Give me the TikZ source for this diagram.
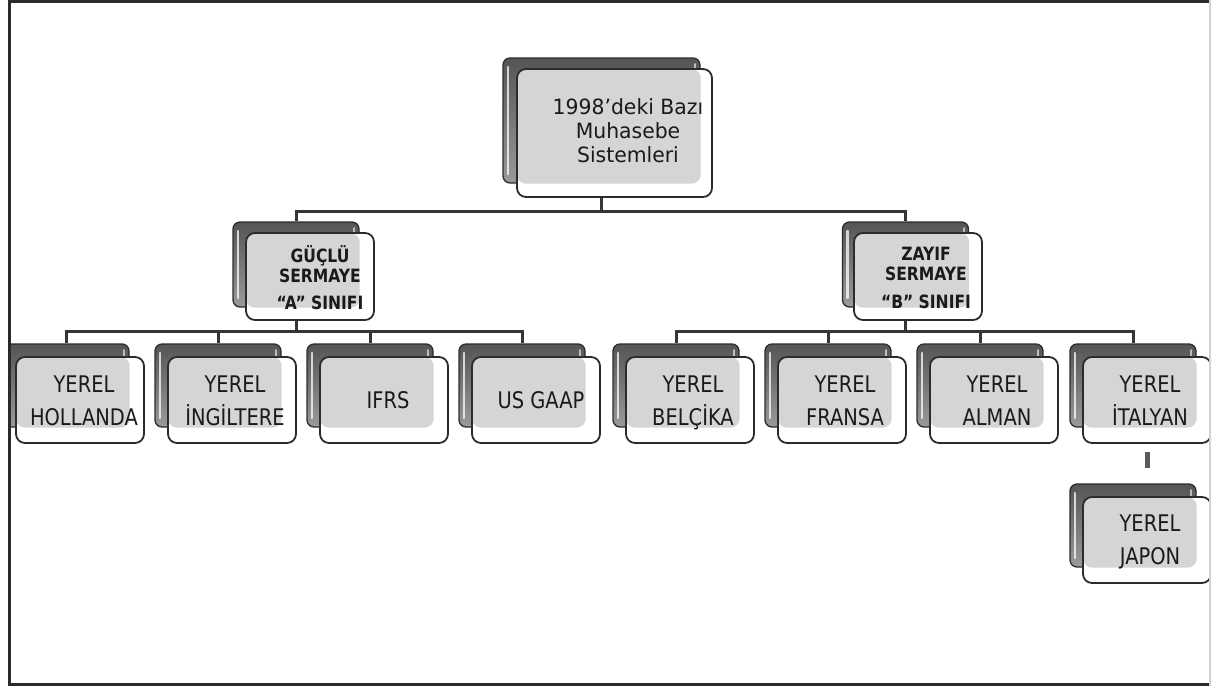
\documentclass[tikz,border=0pt]{standalone}
\usepackage{fontspec}
\usetikzlibrary{backgrounds}
\setmainfont{DejaVu Sans}
\newfontfamily\rootface{DejaVu Sans}[FakeStretch=0.97]
\newfontfamily\midface{DejaVu Sans}[FakeStretch=0.85]
\newfontfamily\leafface{DejaVu Sans}[FakeStretch=0.85]

\definecolor{edge}{HTML}{2C2C2C}
\definecolor{backtop}{HTML}{555555}
\definecolor{backbot}{HTML}{9A9A9A}
\definecolor{grain}{HTML}{D5D5D5}
\definecolor{ink}{HTML}{1A1A1A}
\definecolor{link}{HTML}{353535}
\definecolor{framec}{HTML}{2A2A2A}

\tikzset{
  rearbox/.style={rounded corners=7pt, draw=edge, line width=1.3pt,
    top color=backtop, bottom color=backbot, inner sep=0pt,
    path picture={
      \draw[white, opacity=.75, line width=2.4pt, line cap=round]
        ([xshift=5pt,yshift=-9pt]path picture bounding box.north west) --
        ([xshift=5pt,yshift=9pt]path picture bounding box.south west);
      \draw[white, opacity=.6, line width=2pt, line cap=round]
        ([xshift=-5pt,yshift=-6pt]path picture bounding box.north east) --
        ([xshift=-5pt,yshift=-22pt]path picture bounding box.north east);
    }},
  facebox/.style={rounded corners=9pt, draw=edge, line width=1.8pt,
    fill=white, inner sep=0pt,
    path picture={\fill[grain] (path picture bounding box.north west)
      rectangle (#1.south east);}},
  leafrear/.style={rearbox, minimum width=126pt, minimum height=83pt},
  leafface/.style={facebox=#1, minimum width=128pt, minimum height=86pt},
  midrear/.style={rearbox, minimum width=126pt, minimum height=85pt},
  midface/.style={facebox=#1, minimum width=128pt, minimum height=87pt},
  toptext/.style={text=ink, align=center, inner sep=0pt,
    font=\rootface\fontsize{21}{24}\selectfont},
  midtext/.style={text=ink, align=center, inner sep=0pt,
    font=\midface\bfseries\fontsize{18.3}{19}\selectfont},
  leaftext/.style={text=ink, align=center, inner sep=0pt,
    font=\leafface\fontsize{22.9}{33}\selectfont},
  link/.style={draw=link, line width=3pt},
  bar/.style={draw=gray!70!black, line width=5pt},
}

\begin{document}
\begin{tikzpicture}[x=1pt, y=-1pt]
\useasboundingbox (0,0) rectangle (1211,686);

\begin{scope}
\clip (10,3) rectangle (1211,683);

% root
\node[rearbox, minimum width=197pt, minimum height=125pt] (root-b) at (601.5,120.5) {};
\node[facebox=root-b, minimum width=195pt, minimum height=128pt] (root) at (614.5,133) {};
\node[toptext] (root-t) at (628,131) {1998’deki Bazı\\Muhasebe\\Sistemleri};

% second level
\node[midrear] (guc-b) at (296,264.5) {};
\node[midface=guc-b] (guc) at (310,276.5) {};
\node[midtext] (guc-t) at (320,280.5) {\strut GÜÇLÜ\\\strut SERMAYE\\[7pt]\strut “A” SINIFI};

\node[midrear] (zay-b) at (905.5,264.5) {};
\node[midface=zay-b] (zay) at (918,276.5) {};
\node[midtext] (zay-t) at (926,280.5) {\strut ZAYIF\\\strut SERMAYE\\[7pt]\strut “B” SINIFI};

% leaves
\foreach \nm/\x in {hol/66, ing/218, ifrs/370, usg/522, bel/676,
    fra/828, alm/980, ita/1133} {
  \node[leafrear] (\nm-b) at (\x,385.5) {};
  \node[leafface=\nm-b] (\nm) at (\x+14,400) {};
}
\node[leaftext] (hol-t) at (84,402) {\strut YEREL\\\strut HOLLANDA};
\node[leaftext] (ing-t) at (235,402) {\strut YEREL\\\strut İNGİLTERE};
\node[leaftext] (ifrs-t) at (388,400) {IFRS};
\node[leaftext] (usg-t) at (541,400) {US GAAP};
\node[leaftext] (bel-t) at (693,402) {\strut YEREL\\\strut BELÇİKA};
\node[leaftext] (fra-t) at (845,402) {\strut YEREL\\\strut FRANSA};
\node[leaftext] (alm-t) at (997,402) {\strut YEREL\\\strut ALMAN};
\node[leaftext] (ita-t) at (1150,402) {\strut YEREL\\\strut İTALYAN};

\node[leafrear] (jap-b) at (1133,525.5) {};
\node[leafface=jap-b] (jap) at (1147,540) {};
\node[leaftext] (jap-t) at (1150,541) {\strut YEREL\\\strut JAPON};
\end{scope}

% connectors, kept behind the boxes
\begin{pgfonlayer}{background}
  \foreach \c in {guc, zay}
    \draw[link] (root-b.south |- root.south) -- ++(0,14) -| (\c-b.north);
  \foreach \c in {hol, ing, ifrs, usg}
    \draw[link] (guc-b.south |- guc.south) -- ++(0,11) -| (\c-b.north);
  \foreach \c in {bel, fra, alm, ita}
    \draw[link] (zay-b.south |- zay.south) -- ++(0,11) -| (\c-b.north);
\end{pgfonlayer}
\draw[bar, shorten <=8pt, shorten >=15pt] (ita.south) -- (ita.south |- jap-b.north);

% page frame
\draw[framec, line width=3pt] (9.5,686) -- (9.5,1.5) -- (1211,1.5);
\draw[framec, line width=3pt] (8,684.5) -- (1211,684.5);
\draw[gray!35, line width=1.5pt] (1210,0) -- (1210,686);
\end{tikzpicture}
\end{document}
